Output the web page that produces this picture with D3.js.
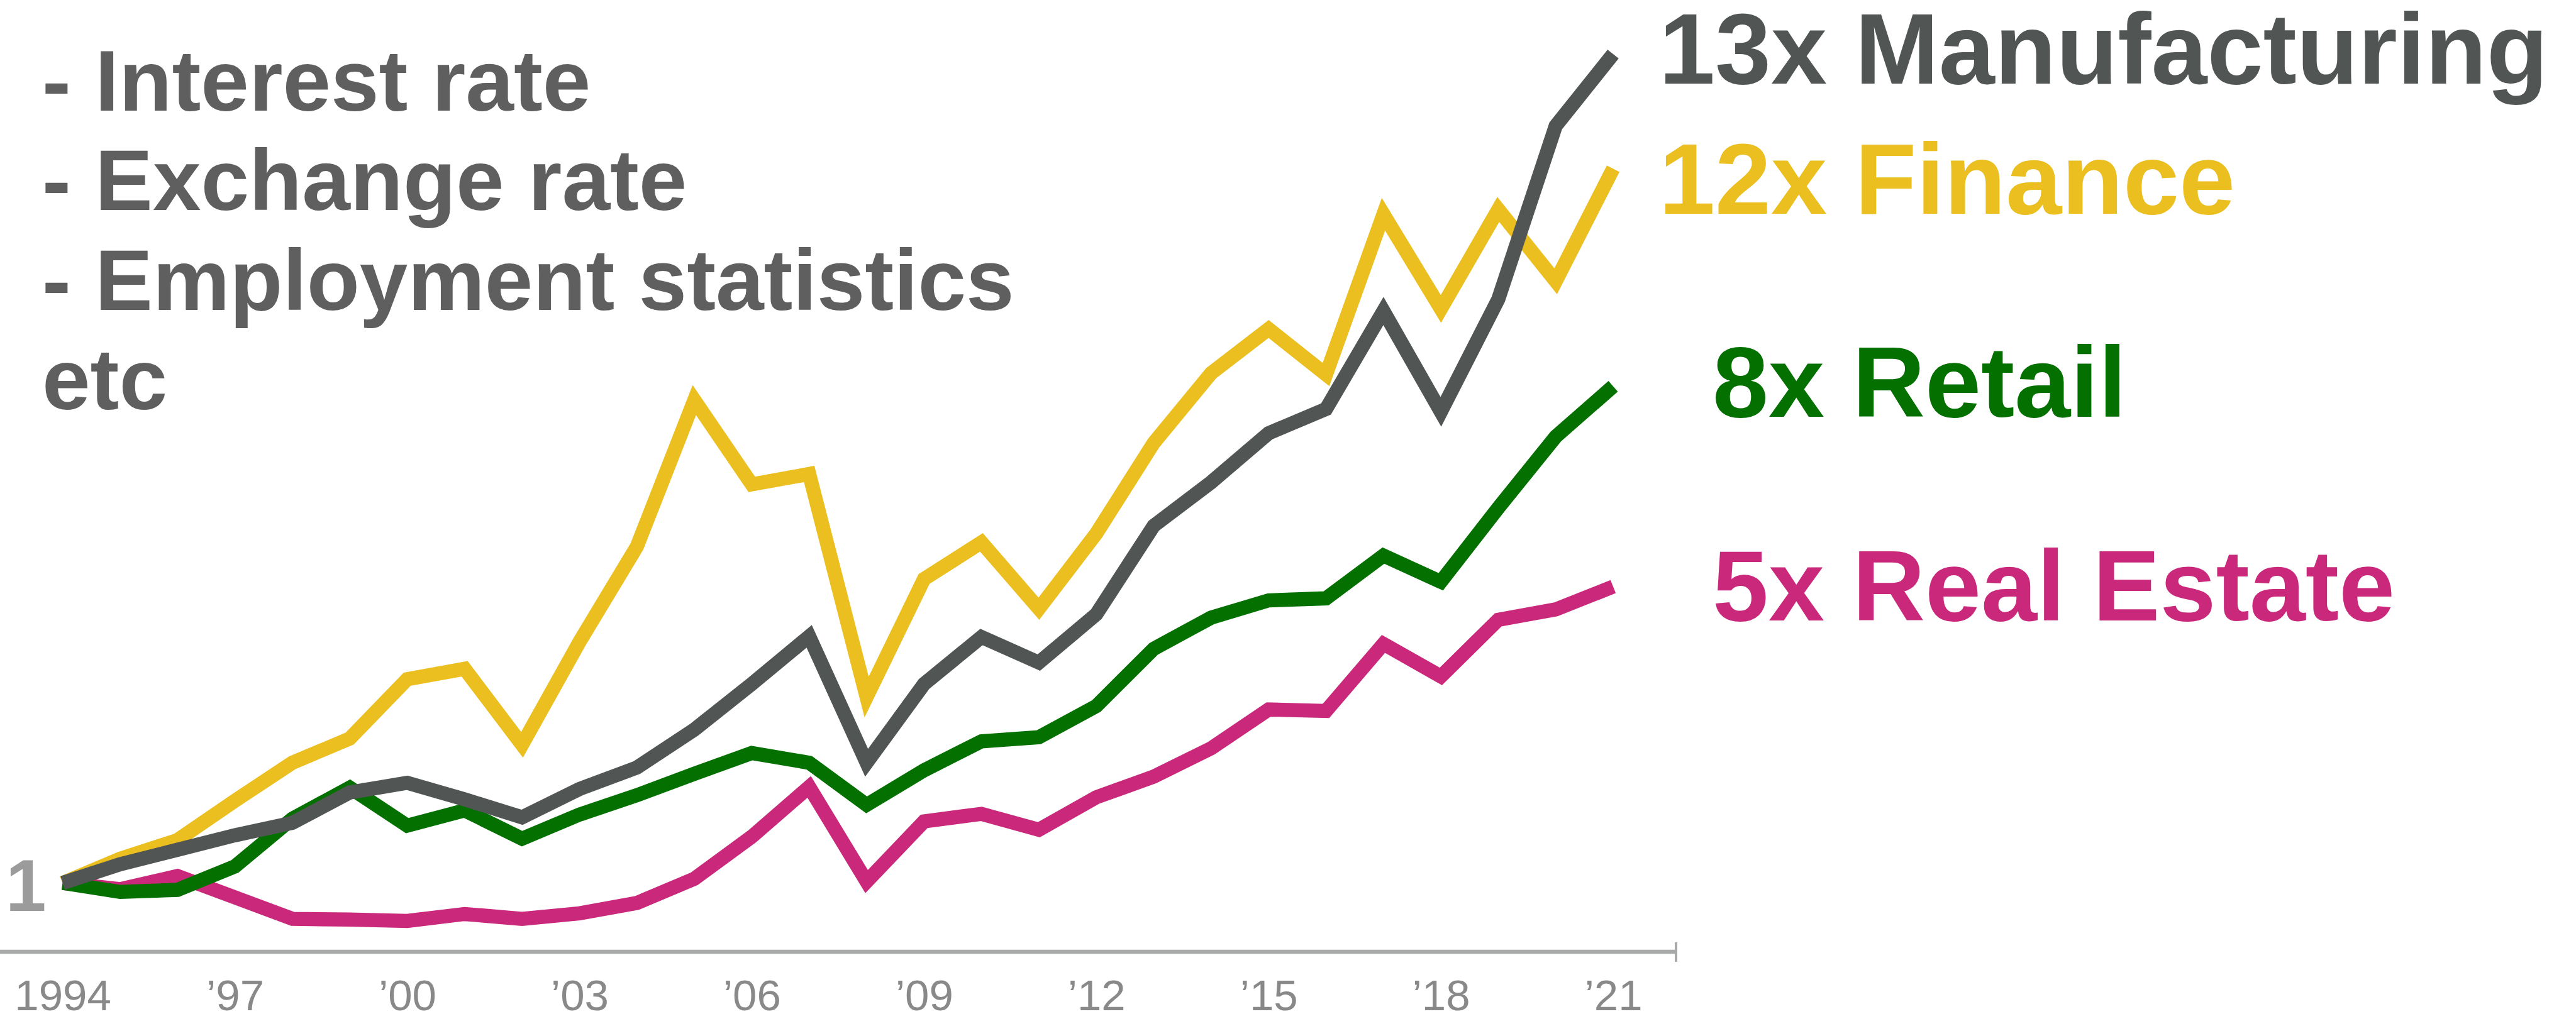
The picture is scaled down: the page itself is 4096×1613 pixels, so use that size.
<!doctype html>
<html lang="en">
<head>
  <meta charset="utf-8">
  <title>Growth by sector since 1994</title>
  <script src="https://d3js.org/d3.v7.min.js"></script>
  <style>
    html, body { margin: 0; padding: 0; background: #fff; }
    svg { display: block; font-family: "Liberation Sans", Arial, sans-serif; }
  </style>
</head>
<body>
<svg id="chart" width="4096" height="1613"></svg>
<script>
  // values are multiples of the 1994 level
  var years = d3.range(1994, 2022);
  var manufacturing = [1.00, 1.27, 1.48, 1.69, 1.87, 2.31, 2.45, 2.21, 1.95, 2.36, 2.67, 3.22, 3.88, 4.57,
                       2.74, 3.88, 4.56, 4.19, 4.89, 6.17, 6.80, 7.51, 7.86, 9.28, 7.82, 9.45, 11.96, 13.00];
  var finance = [1.00, 1.35, 1.62, 2.19, 2.74, 3.09, 3.95, 4.10, 3.00, 4.49, 5.87, 7.99, 6.77, 6.92,
                 3.69, 5.40, 5.93, 4.97, 6.06, 7.37, 8.38, 9.02, 8.36, 10.68, 9.31, 10.75, 9.71, 11.34];
  var retail = [1.00, 0.87, 0.90, 1.24, 1.93, 2.38, 1.83, 2.05, 1.64, 1.99, 2.27, 2.58, 2.88, 2.74,
                2.13, 2.63, 3.05, 3.11, 3.56, 4.39, 4.84, 5.09, 5.12, 5.74, 5.36, 6.43, 7.46, 8.19];
  var realEstate = [1.00, 0.91, 1.10, 0.79, 0.48, 0.47, 0.45, 0.55, 0.48, 0.56, 0.71, 1.06, 1.67, 2.39,
                    1.02, 1.89, 2.00, 1.77, 2.24, 2.54, 2.95, 3.51, 3.49, 4.46, 3.99, 4.81, 4.96, 5.29];

  var tickYears = [1994, 1997, 2000, 2003, 2006, 2009, 2012, 2015, 2018, 2021];
  var notes = ["- Interest rate", "- Exchange rate", "- Employment statistics", "etc"];
  var endLabels = ["13x Manufacturing", "12x Finance", "8x Retail", "5x Real Estate"];

  var svg = d3.select("#chart");

  var x = d3.scaleLinear().domain([1994, 2021]).range([99.6, 2565]);
  var y = d3.scaleLinear().domain([1, 13]).range([1404.5, 85.9]);

  var series = [
    { name: "Real Estate", values: realEstate, color: "#c9287b" },
    { name: "Retail", values: retail, color: "#037000" },
    { name: "Finance", values: finance, color: "#eabf1f" },
    { name: "Manufacturing", values: manufacturing, color: "#515655" }
  ];

  // axis line + end tick
  svg.append("line")
    .attr("x1", 0).attr("x2", 2665)
    .attr("y1", 1514).attr("y2", 1514)
    .attr("stroke", "#a7aaa9").attr("stroke-width", 6.7);
  svg.append("line")
    .attr("x1", 2665).attr("x2", 2665)
    .attr("y1", 1499).attr("y2", 1530)
    .attr("stroke", "#a7aaa9").attr("stroke-width", 4);

  var axis = d3.axisBottom(x)
    .tickValues(tickYears)
    .tickSize(0)
    .tickFormat(function(d) { return d === 1994 ? "1994" : "\u2019" + String(d).slice(2); });

  var gx = svg.append("g").attr("transform", "translate(0,1514)").call(axis);
  gx.select(".domain").remove();
  gx.selectAll("text")
    .attr("y", 93).attr("dy", 0)
    .attr("fill", "#898989")
    .style("font-size", "69px")
    .style("font-family", "'Liberation Sans', Arial, sans-serif");

  // "1" baseline marker
  svg.append("text")
    .attr("x", 9).attr("y", 1449)
    .attr("fill", "#9b9b9b")
    .style("font-size", "116px")
    .style("font-weight", "bold")
    .text("1");

  var line = d3.line()
    .x(function(d, i) { return x(years[i]); })
    .y(function(d) { return y(d); });

  svg.selectAll(".series")
    .data(series)
    .enter().append("path")
    .attr("class", "series")
    .attr("d", function(d) { return line(d.values); })
    .attr("fill", "none")
    .attr("stroke", function(d) { return d.color; })
    .attr("stroke-width", 22.5)
    .attr("stroke-linejoin", "miter")
    .attr("stroke-miterlimit", 10)
    .attr("stroke-linecap", "butt");

  // notes top left
  svg.selectAll(".note")
    .data(notes)
    .enter().append("text")
    .attr("class", "note")
    .attr("x", 67)
    .attr("y", function(d, i) { return 176 + i * 158.3; })
    .attr("fill", "#5f5f5f")
    .style("font-size", "137.7px")
    .style("font-weight", "bold")
    .text(function(d) { return d; });

  // labels at the right
  var labelX = [2638, 2638, 2723, 2723];
  var labelY = [133.4, 340.4, 662.5, 987.3];
  var labelColor = ["#515655", "#eabf1f", "#037000", "#c9287b"];

  svg.selectAll(".endlabel")
    .data(endLabels)
    .enter().append("text")
    .attr("class", "endlabel")
    .attr("x", function(d, i) { return labelX[i]; })
    .attr("y", function(d, i) { return labelY[i]; })
    .attr("fill", function(d, i) { return labelColor[i]; })
    .style("font-size", "160px")
    .style("font-weight", "bold")
    .text(function(d) { return d; });
</script>
</body>
</html>
